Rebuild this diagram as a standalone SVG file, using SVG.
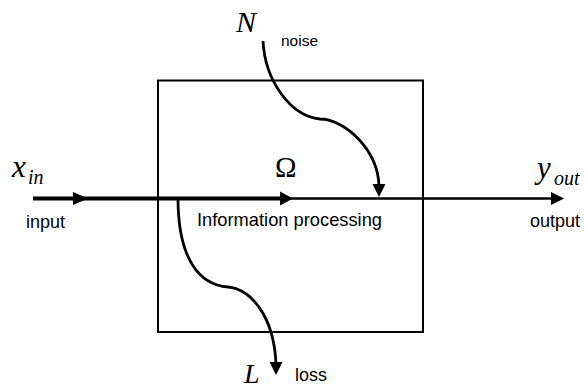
<svg xmlns="http://www.w3.org/2000/svg" width="585" height="390" viewBox="0 0 585 390">
<style>
.ln{fill:none;stroke:#000;stroke-linecap:butt}
.ah{fill:#000}
.sans{font-family:"Liberation Sans",Arial,sans-serif;fill:#000}
.ser{font-family:"Liberation Serif","Times New Roman",serif;font-style:italic;fill:#000}
</style>
<rect width="585" height="390" fill="#fff"/>
<g id="box">
<rect x="158" y="80.5" width="265" height="251.5" fill="none" stroke="#000" stroke-width="2"/>
<text class="sans" x="197" y="226" font-size="18.5" textLength="185" lengthAdjust="spacingAndGlyphs">Information processing</text>
<text x="275" y="177" font-family="Liberation Serif,Times New Roman,serif" font-size="29" fill="#000">Ω</text>
</g>
<g id="input">
<text class="ser" x="12" y="177" font-size="31">x</text>
<text class="ser" x="28" y="184" font-size="20">in</text>
<text class="sans" x="26" y="228" font-size="18">input</text>
</g>
<g id="output">
<text class="ser" x="537" y="178" font-size="31">y</text>
<text class="ser" x="554" y="185" font-size="20">out</text>
<text class="sans" x="530" y="227" font-size="18">output</text>
</g>
<g id="noise">
<text class="ser" x="236" y="32" font-size="30">N</text>
<text class="sans" x="281" y="46" font-size="15.5">noise</text>
</g>
<g id="loss">
<text class="ser" x="244" y="383" font-size="28">L</text>
<text class="sans" x="295" y="381" font-size="18">loss</text>
</g>
<g id="connectors">
<line class="ln" x1="33" y1="198.5" x2="282" y2="198.5" stroke-width="3.8"/>
<line class="ln" x1="282" y1="198.5" x2="553" y2="198.5" stroke-width="2.6"/>
<polygon class="ah" points="73,192 88,198.5 73,205"/>
<polygon class="ah" points="280,191.5 293,198.5 280,205.5"/>
<polygon class="ah" points="551,192 564,198.5 551,205"/>
<path class="ln" stroke-width="2.8" d="M263,41 C265,80 290,116 320,119 C345,119 378,150 379,186"/>
<polygon class="ah" points="372.5,184 385.5,184 379,197"/>
<path class="ln" stroke-width="2.8" d="M178,198 C178,260 200,285 228,287 C250,289 274,315 276,364"/>
<polygon class="ah" points="269.5,362 282.5,362 276,375"/>
</g>
</svg>
